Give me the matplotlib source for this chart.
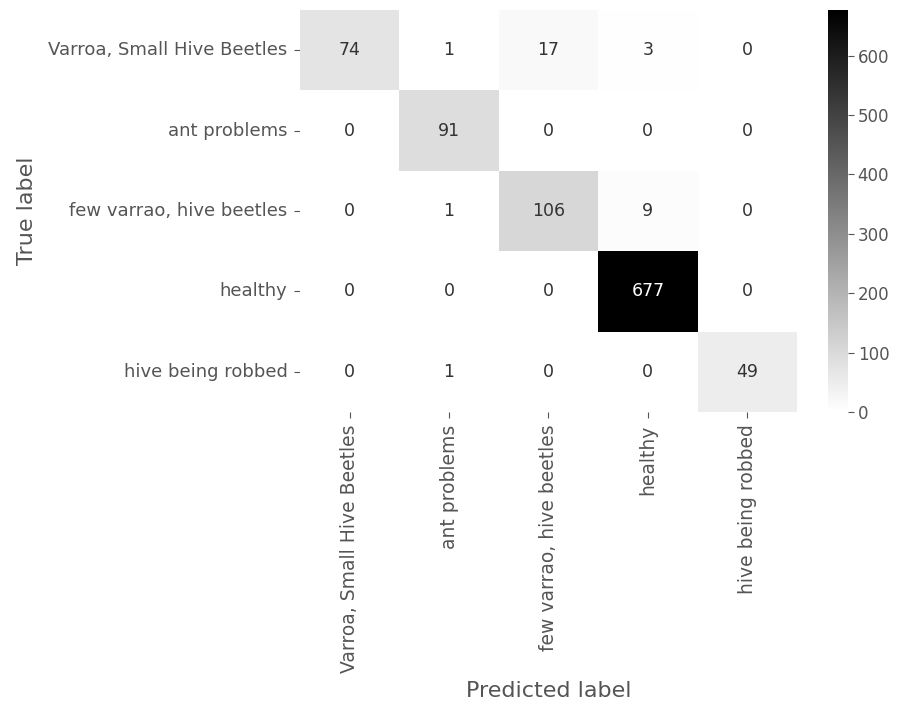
import matplotlib
matplotlib.use("Agg")
import matplotlib.pyplot as plt
import numpy as np
import seaborn as sns

plt.style.use("ggplot")

# confusion matrix counts (rows = true, cols = predicted)
class_names = ["Varroa, Small Hive Beetles", "ant problems",
               "few varrao, hive beetles", "healthy", "hive being robbed"]
row_varroa = [74, 1, 17, 3, 0]
row_ant = [0, 91, 0, 0, 0]
row_few = [0, 1, 106, 9, 0]
row_healthy = [0, 0, 0, 677, 0]
row_robbed = [0, 1, 0, 0, 49]

cm = np.array([row_varroa, row_ant, row_few, row_healthy, row_robbed])

fig = plt.figure(figsize=(9, 7.02), dpi=100)
ax = fig.add_axes([0.3333, 0.4131, 0.5522, 0.5727])
cax = fig.add_axes([0.92, 0.4131, 0.0222, 0.5727])

sns.heatmap(cm, annot=True, fmt="d", cmap="binary", ax=ax, cbar_ax=cax,
            xticklabels=class_names, yticklabels=class_names,
            annot_kws={"fontsize": 12.5, "color": "#333333"})
# dark cell gets white text
for t in ax.texts:
    if t.get_text() == "677":
        t.set_color("white")

ax.tick_params(axis="y", labelsize=13, colors="#555555", length=4, pad=5,
               labelrotation=0)
ax.tick_params(axis="x", labelsize=13.5, colors="#555555", length=4, pad=5,
               labelrotation=90)
ax.set_ylabel("True label", fontsize=16, color="#555555", labelpad=8)
ax.set_xlabel("Predicted label", fontsize=16, color="#555555", labelpad=6)
cax.tick_params(labelsize=12, colors="#555555", length=4, pad=3)

fig.savefig("out.png", dpi=100)
